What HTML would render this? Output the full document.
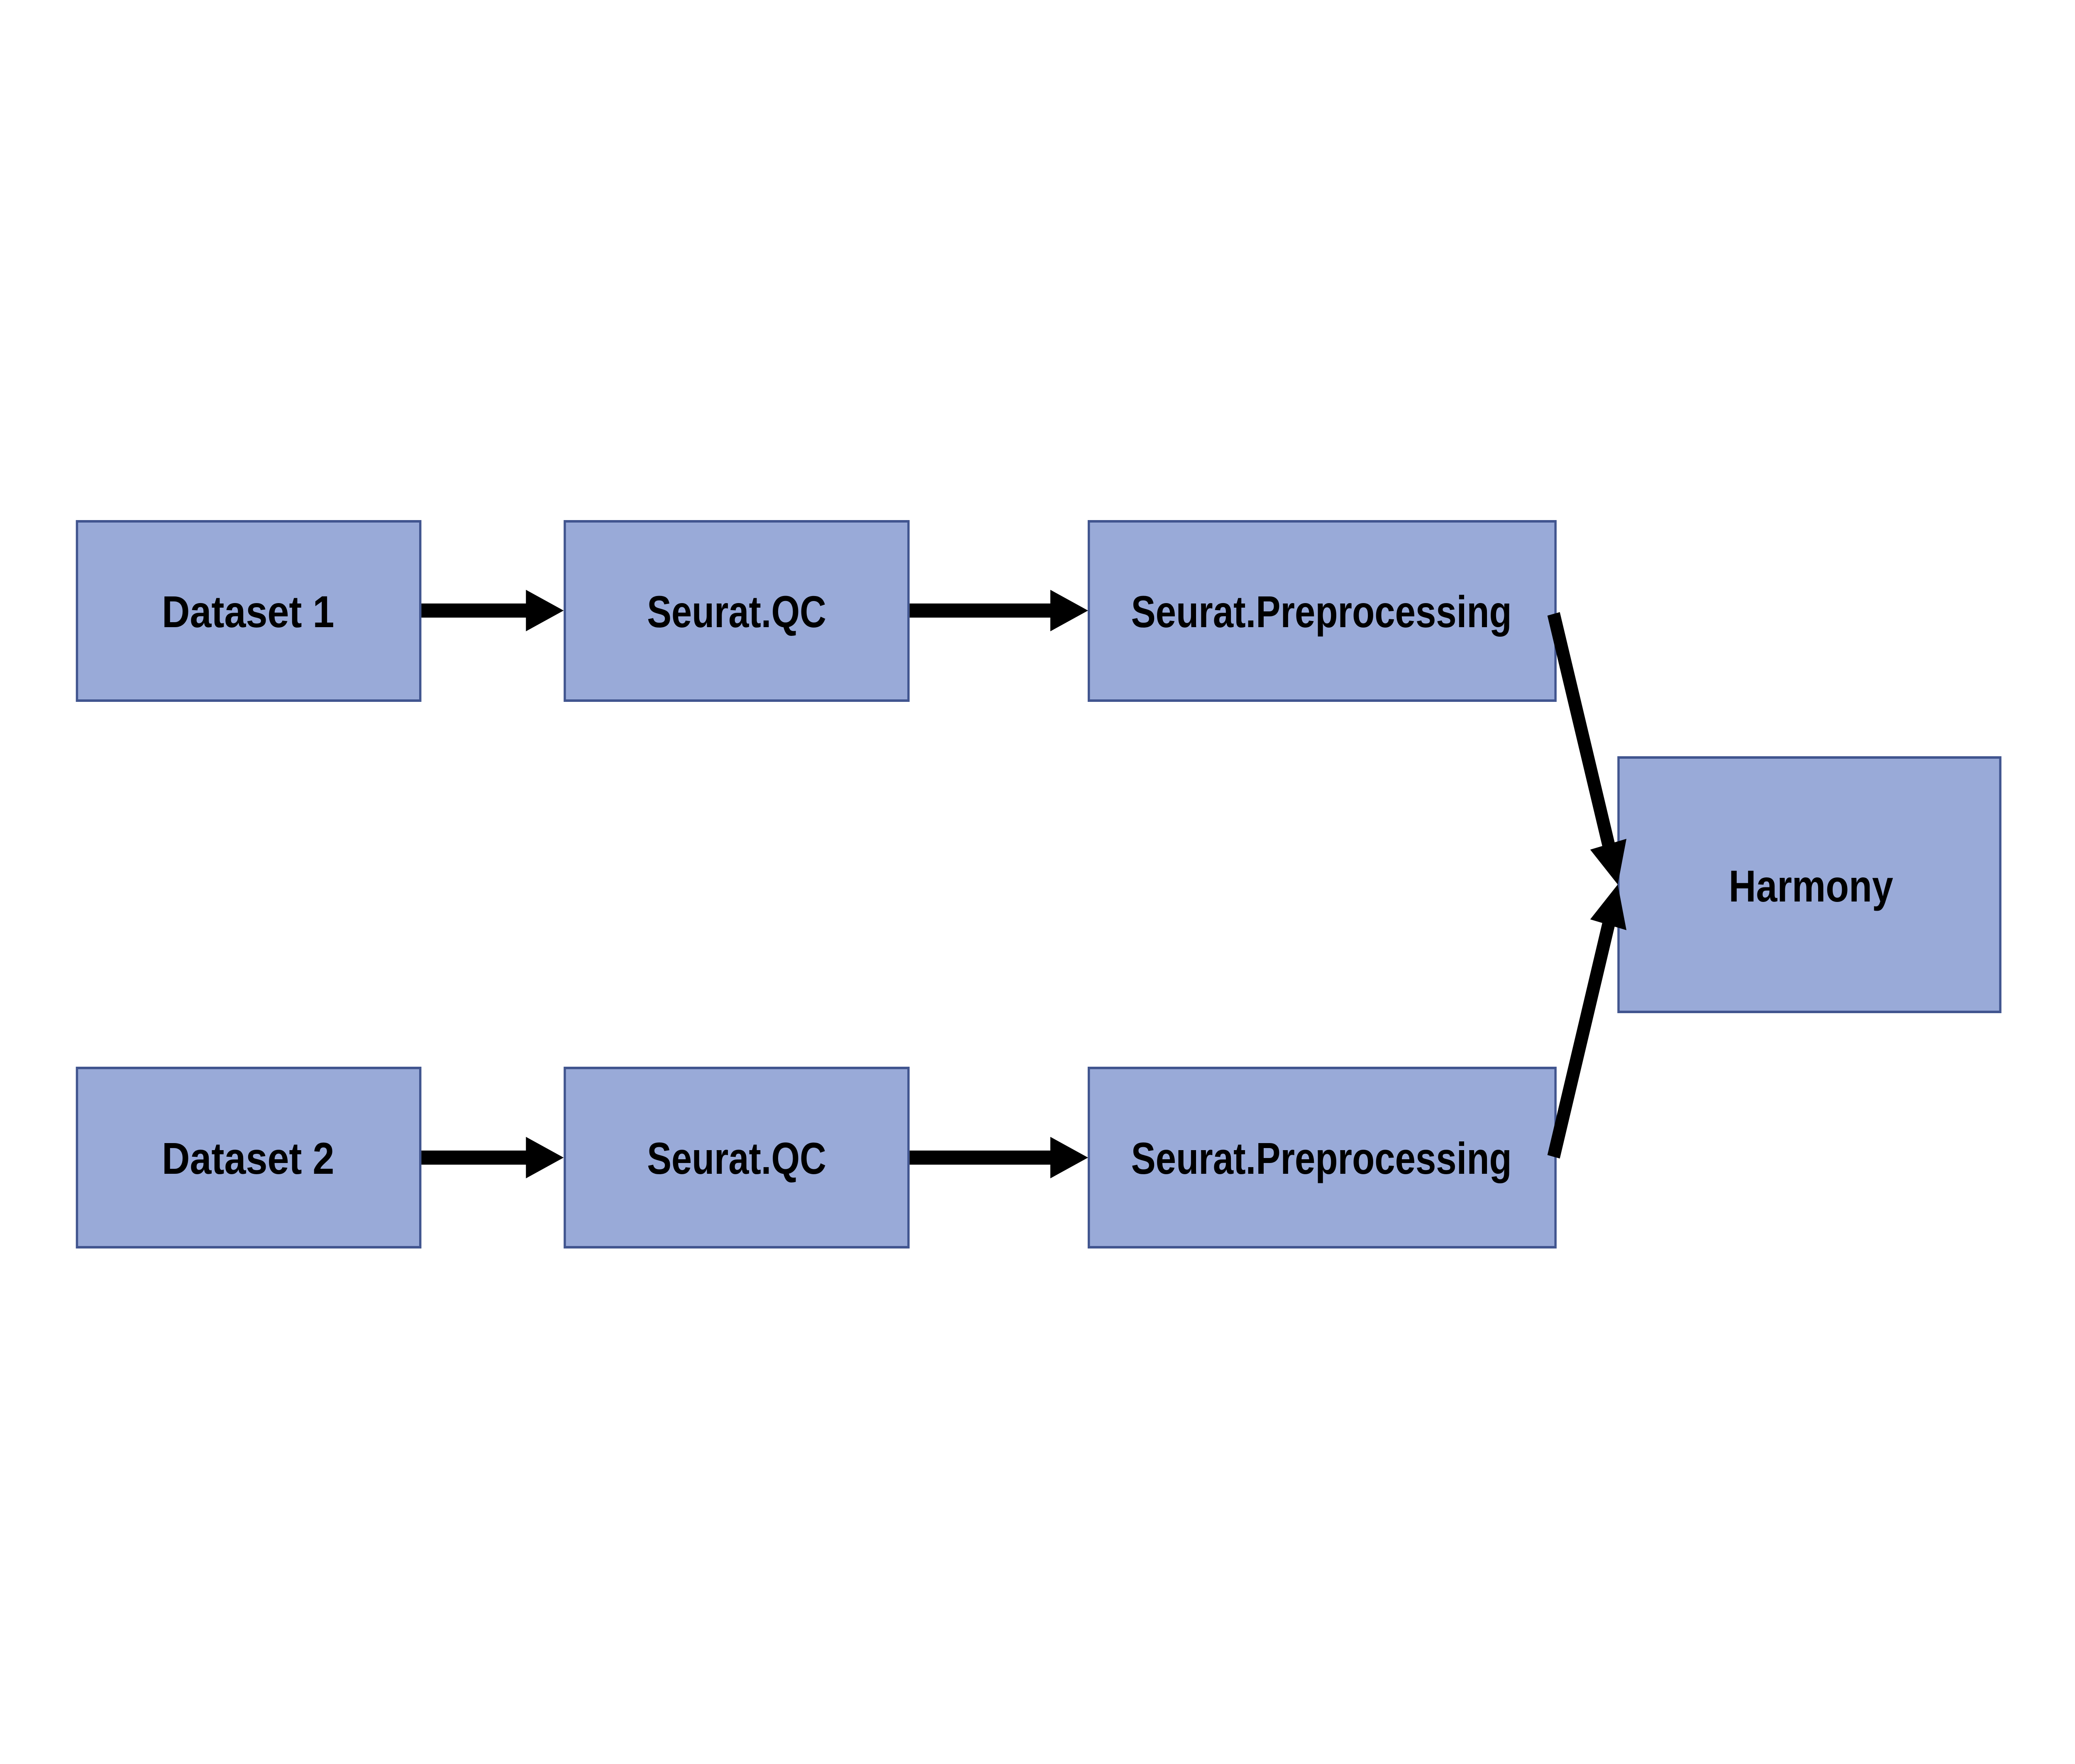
<!DOCTYPE html>
<html><head><meta charset="utf-8"><style>html,body{margin:0;padding:0;background:#fff;overflow:hidden;width:100%;height:100%;}svg{display:block;width:100vw;height:100vh}</style></head>
<body>
<svg xmlns="http://www.w3.org/2000/svg" viewBox="0 0 5500 4250" preserveAspectRatio="none">
<rect width="5500" height="4250" fill="#fff"/>
<g fill="#99aad8" stroke="#41558f" stroke-width="6">
<rect x="204" y="1256" width="910" height="432"/>
<rect x="1497" y="1256" width="911" height="432"/>
<rect x="2886" y="1256" width="1237" height="432"/>
<rect x="204" y="2573" width="910" height="432"/>
<rect x="1497" y="2573" width="911" height="432"/>
<rect x="2886" y="2573" width="1237" height="432"/>
<rect x="4290" y="1825" width="1012" height="613"/>
</g>
<g font-family="'Liberation Sans', sans-serif" font-weight="bold" font-size="108" fill="#000">
<text x="429" y="1511" textLength="457" lengthAdjust="spacingAndGlyphs">Dataset 1</text>
<text x="1715" y="1511" textLength="475" lengthAdjust="spacingAndGlyphs">Seurat.QC</text>
<text x="2998" y="1511" textLength="1009" lengthAdjust="spacingAndGlyphs">Seurat.Preprocessing</text>
<text x="429" y="2828" textLength="457" lengthAdjust="spacingAndGlyphs">Dataset 2</text>
<text x="1715" y="2828" textLength="475" lengthAdjust="spacingAndGlyphs">Seurat.QC</text>
<text x="2998" y="2828" textLength="1009" lengthAdjust="spacingAndGlyphs">Seurat.Preprocessing</text>
<text x="4582" y="2172" textLength="436" lengthAdjust="spacingAndGlyphs">Harmony</text>
</g>
<g fill="#000">
<rect x="1117" y="1454" width="280" height="34"/>
<polygon points="1394,1421 1494,1471 1394,1521"/>
<rect x="2411" y="1454" width="376" height="34"/>
<polygon points="2784,1421 2884,1471 2784,1521"/>
<rect x="1117" y="2772" width="280" height="34"/>
<polygon points="1394,2739 1494,2789 1394,2839"/>
<rect x="2411" y="2772" width="376" height="34"/>
<polygon points="2784,2739 2884,2789 2784,2839"/>
<polygon points="4215,2047 4311,2021 4288,2131"/>
<polygon points="4215,2215 4311,2241 4288,2131"/>
</g>
<g stroke="#000" stroke-width="34">
<line x1="4118" y1="1479" x2="4266" y2="2044"/>
<line x1="4118" y1="2787" x2="4266" y2="2218"/>
</g>
</svg>
</body></html>
